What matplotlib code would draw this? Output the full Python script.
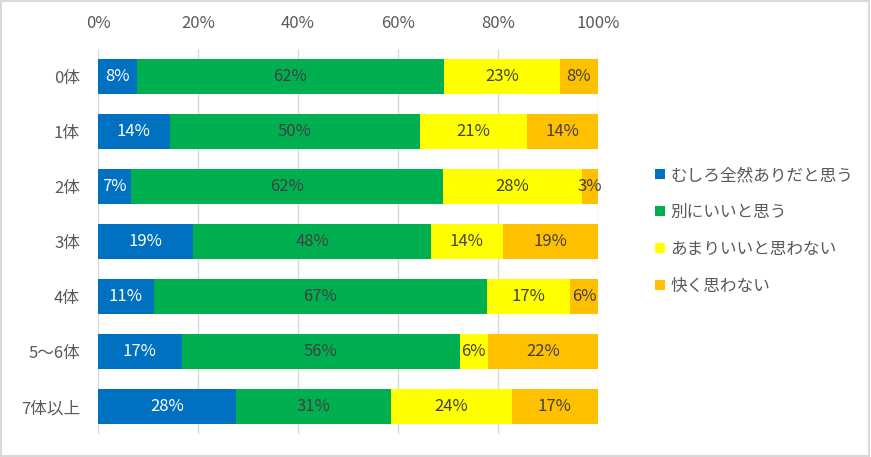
import numpy as np
import matplotlib.pyplot as plt
from matplotlib.patches import Rectangle

plt.rcParams['font.family'] = ['Noto Sans CJK JP', 'DejaVu Sans']

# -------------------------------
# Data (percent of respondents)
# -------------------------------
categories = ["0体", "1体", "2体", "3体", "4体", "5〜6体", "7体以上"]
series_names = ["むしろ全然ありだと思う", "別にいいと思う", "あまりいいと思わない", "快く思わない"]
mushiro = [7.7, 14.3, 6.6, 19.0, 11.1, 16.7, 27.6]
betsuni = [61.5, 50.0, 62.3, 47.6, 66.6, 55.6, 31.0]
amari = [23.1, 21.4, 27.9, 14.3, 16.7, 5.6, 24.1]
kokoroyoku = [7.7, 14.3, 3.2, 19.1, 5.6, 22.1, 17.3]
colors = ["#0070C0", "#00B050", "#FFFF00", "#FFC000"]
text_colors = ["white", "#404040", "#404040", "#404040"]

# -------------------------------
# Plot
# -------------------------------
fig = plt.figure(figsize=(8.71, 4.57), dpi=100)
ax = fig.add_axes([98 / 871, 1 - 434 / 457, 500 / 871, 385 / 457])

y = np.arange(len(categories))
left = np.zeros(len(categories))
for vals, name, col, tcol in zip([mushiro, betsuni, amari, kokoroyoku], series_names, colors, text_colors):
    vals = np.array(vals)
    bars = ax.barh(y, vals, left=left, height=0.64, color=col, label=name, zorder=3)
    for b, v in zip(bars, vals):
        ax.text(b.get_x() + b.get_width() / 2, b.get_y() + b.get_height() / 2,
                f"{v:.0f}%", ha="center", va="center", color=tcol, fontsize=12, zorder=4)
    left += vals

ax.set_xlim(0, 100)
ax.set_ylim(len(categories) - 0.5, -0.5)
ax.set_yticks(y)
ax.set_yticklabels(categories, fontsize=12, color="#595959")
ax.set_xticks(np.arange(0, 101, 20))
ax.set_xticklabels([f"{t}%" for t in range(0, 101, 20)], fontsize=12, color="#595959")
ax.xaxis.tick_top()
ax.tick_params(axis="both", length=0)
ax.tick_params(axis="x", pad=12)
ax.tick_params(axis="y", pad=13)
ax.grid(axis="x", color="#D9D9D9", linewidth=1, zorder=0)
for s in ax.spines.values():
    s.set_visible(False)

fig.legend(loc="upper left", bbox_to_anchor=(640 / 871, 1 - 152 / 457), frameon=False,
           fontsize=12, handlelength=0.6, handleheight=0.6, handletextpad=0.3,
           labelspacing=1.2, labelcolor="#595959")

# outer border
fig.patches.append(Rectangle((0.001, 0.002), 0.997, 0.995, transform=fig.transFigure,
                             fill=False, edgecolor="#D9D9D9", linewidth=1.5))

fig.savefig("out.png", dpi=100)
